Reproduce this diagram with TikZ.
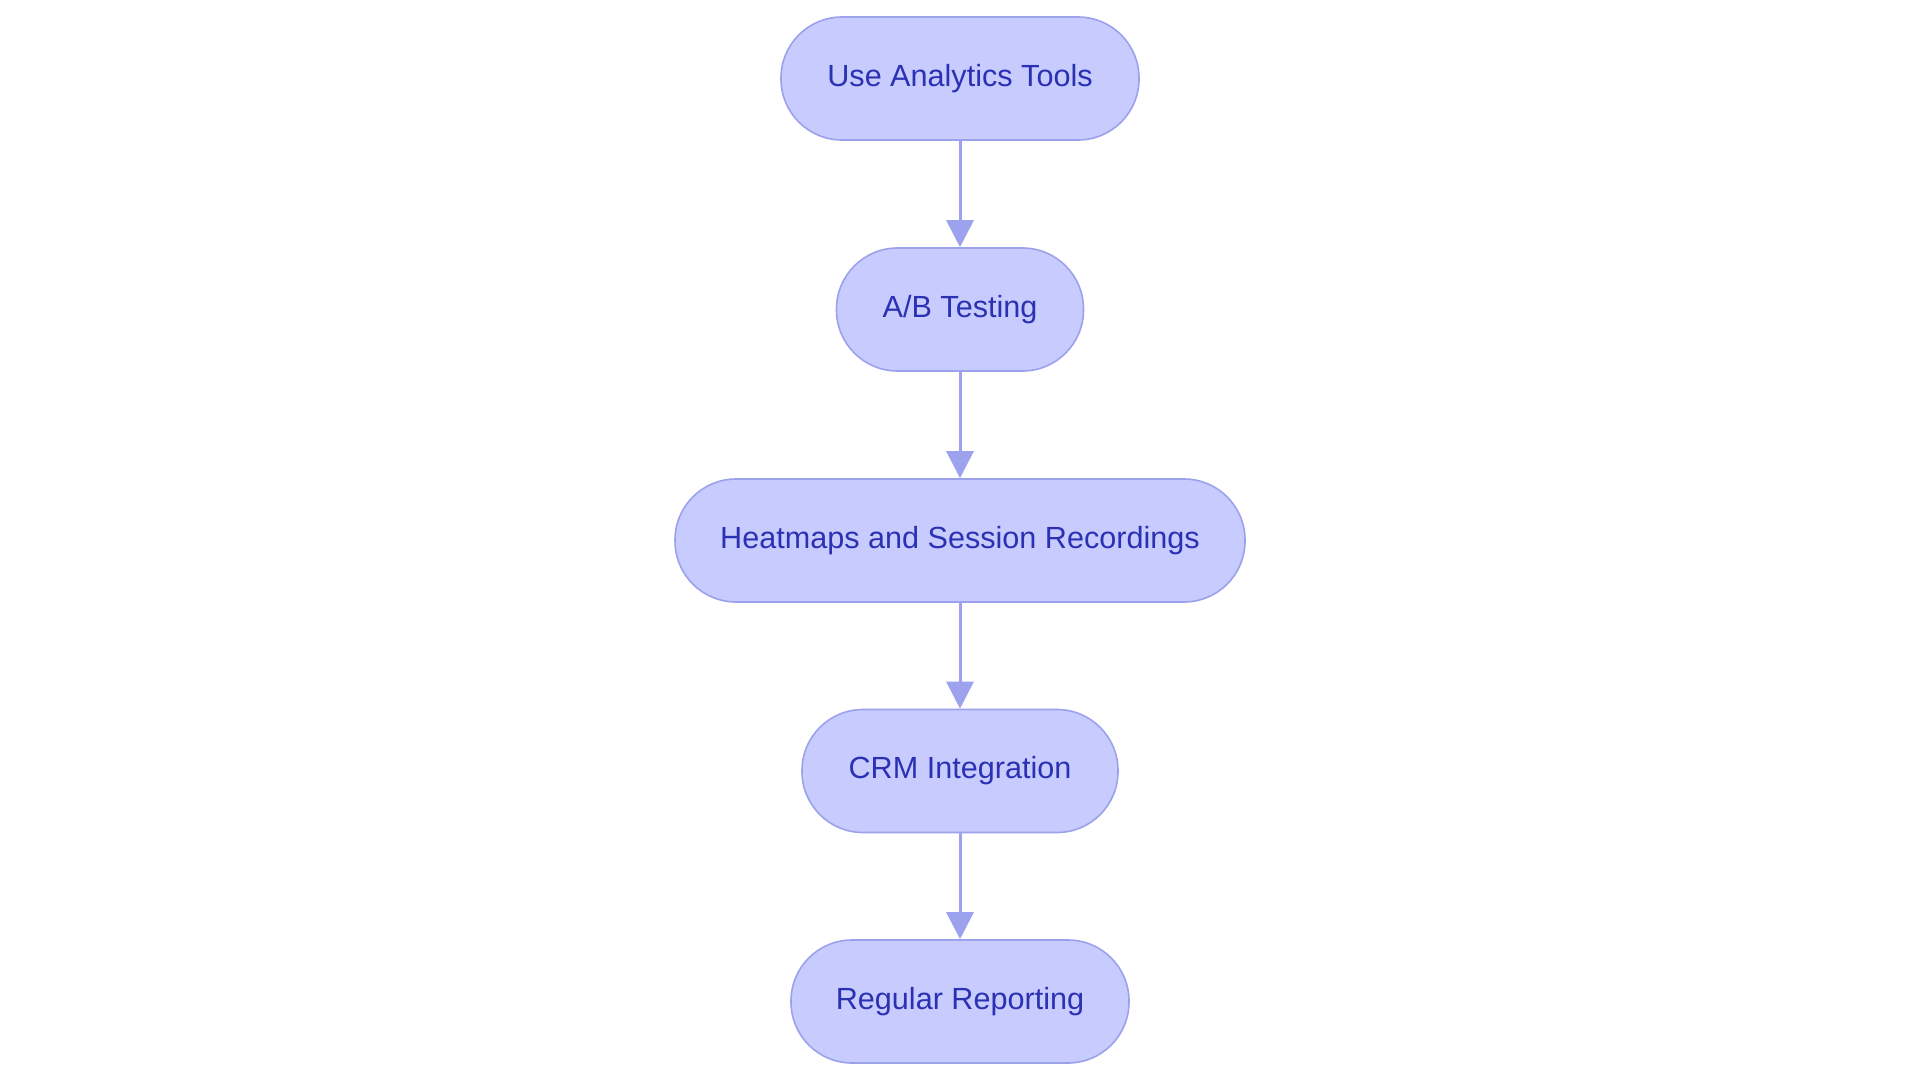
\documentclass[tikz,border=0pt]{standalone}
\usepackage{fontspec}
\setmainfont{Liberation Sans}
\usetikzlibrary{arrows.meta}
\definecolor{boxfill}{HTML}{C8CBFE}
\definecolor{boxline}{HTML}{9CA1EC}
\definecolor{boxtext}{HTML}{2B31B3}
\definecolor{arrowcol}{HTML}{9DA2EE}
\tikzset{
  stepbox/.style={draw=boxline, fill=boxfill, line width=1.6pt, rounded corners=61pt,
    minimum height=123pt, inner sep=0pt, text=boxtext,
    font=\fontsize{30.6}{36}\selectfont},
  flowarrow/.style={draw=arrowcol, line width=3pt,
    -{Triangle[length=27pt,width=27pt]}}
}
\begin{document}
\begin{tikzpicture}[x=1pt,y=-1pt]
\useasboundingbox[fill=white] (0,0) rectangle (1920,1083);
\node[stepbox, minimum width=358pt] (n1) at (960,78.5) {Use Analytics Tools};
\node[stepbox, minimum width=247pt] (n2) at (960,309.5) {A/B Testing};
\node[stepbox, minimum width=570pt] (n3) at (960,540.5) {Heatmaps and Session Recordings};
\node[stepbox, minimum width=316pt] (n4) at (960,771) {CRM Integration};
\node[stepbox, minimum width=338pt] (n5) at (960,1001.5) {Regular Reporting};
\draw[flowarrow] (n1) -- (n2);
\draw[flowarrow] (n2) -- (n3);
\draw[flowarrow] (n3) -- (n4);
\draw[flowarrow] (n4) -- (n5);
\end{tikzpicture}
\end{document}
